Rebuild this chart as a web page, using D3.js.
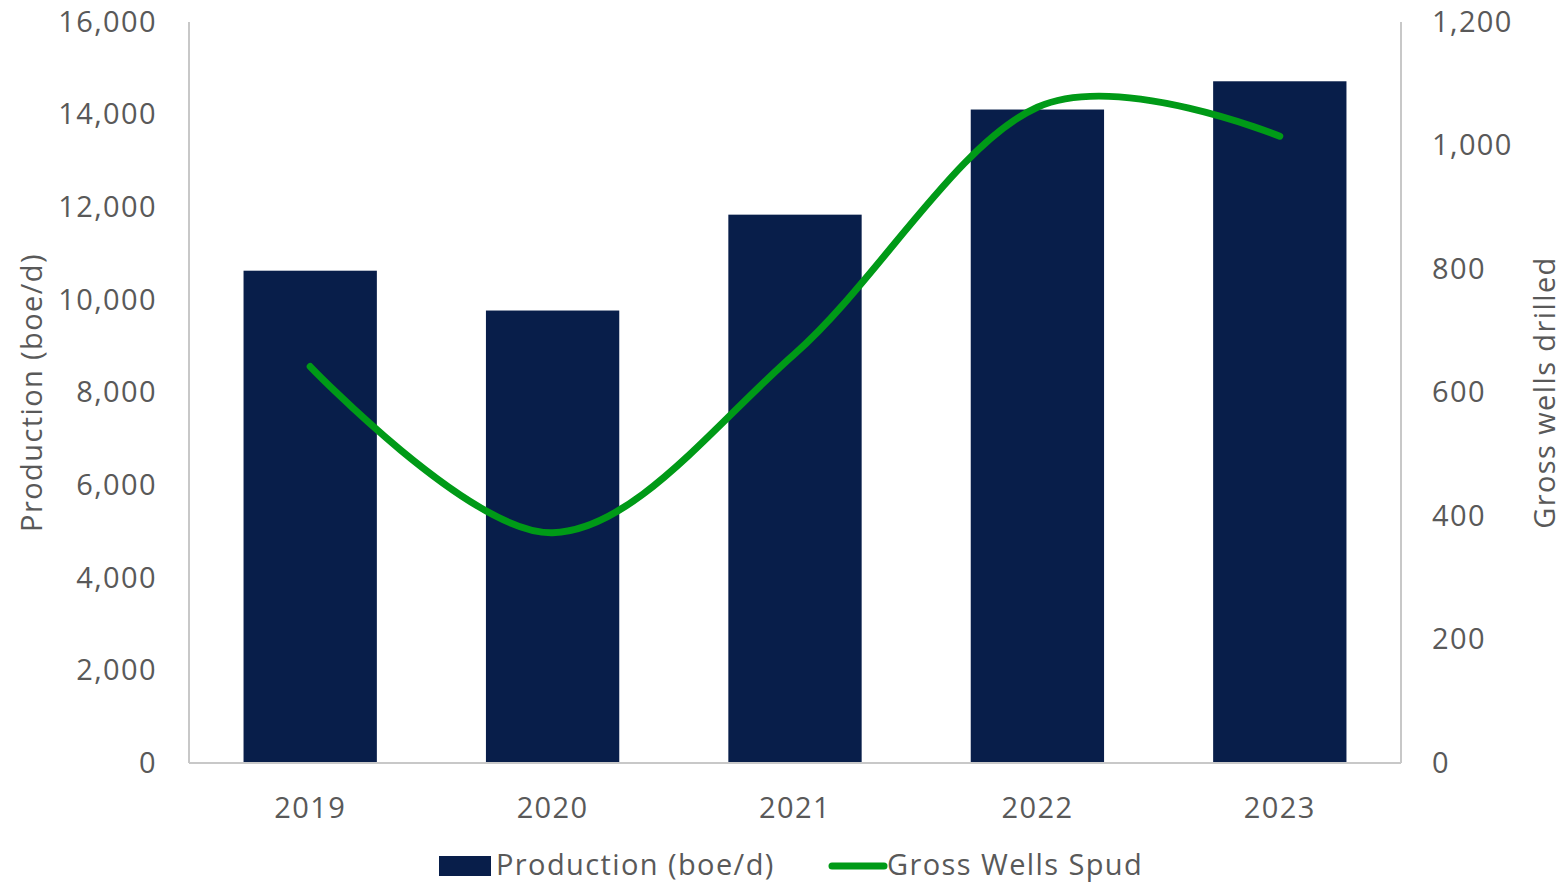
<!DOCTYPE html>
<html lang="en">
<head>
<meta charset="UTF-8">
<script src="https://d3js.org/d3.v7.min.js"></script>
<style>
  body { margin: 0; background: #fff; font-family: "Open Sans", Arial, sans-serif; }
  text { fill: #595959; letter-spacing: 1.4px; }
</style>
</head>
<body>
<svg id="chart" width="1562" height="882"></svg>
<script>
// data
const years = ["2019", "2020", "2021", "2022", "2023"];
const production = [10630, 9770, 11840, 14110, 14720];
const wells = [642, 373, 663, 1062, 1015];
const leftTicks = [0, 2000, 4000, 6000, 8000, 10000, 12000, 14000, 16000];
const rightTicks = [0, 200, 400, 600, 800, 1000, 1200];

const width = 1562, height = 882;
const margin = { top: 22, right: 161, bottom: 119, left: 189 };
const font = "Open Sans", fs = 29;

const svg = d3.select("#chart");
const fmt = d3.format(",");

const x = d3.scaleBand()
  .domain(years)
  .range([margin.left, width - margin.right])
  .paddingInner(0.45)
  .paddingOuter(0.225);

const xc = d3.scalePoint()
  .domain(years)
  .range([margin.left, width - margin.right])
  .padding(0.5);

const y = d3.scaleLinear().domain([0, 16000]).range([height - margin.bottom, margin.top]);
const y2 = d3.scaleLinear().domain([0, 1200]).range([height - margin.bottom, margin.top]);

// axes lines
const axisColor = "#c8c8c8";
svg.append("line")
  .attr("x1", margin.left).attr("x2", margin.left)
  .attr("y1", margin.top).attr("y2", y(0))
  .attr("stroke", axisColor).attr("stroke-width", 2);
svg.append("line")
  .attr("x1", width - margin.right).attr("x2", width - margin.right)
  .attr("y1", margin.top).attr("y2", y(0))
  .attr("stroke", axisColor).attr("stroke-width", 2);

// bars
svg.selectAll("rect.bar")
  .data(years)
  .enter().append("rect")
  .attr("class", "bar")
  .attr("x", d => x(d))
  .attr("width", x.bandwidth())
  .attr("y", (d, i) => y(production[i]))
  .attr("height", (d, i) => y(0) - y(production[i]))
  .attr("fill", "#081e4a");

svg.append("line")
  .attr("x1", margin.left).attr("x2", width - margin.right)
  .attr("y1", y(0)).attr("y2", y(0))
  .attr("stroke", axisColor).attr("stroke-width", 2);

// left axis
const gl = svg.append("g")
  .attr("transform", `translate(${margin.left},0)`)
  .call(d3.axisLeft(y).tickValues(leftTicks).tickFormat(fmt).tickSize(0).tickPadding(32));
gl.select(".domain").remove();
gl.selectAll("text").attr("font-size", fs).attr("font-family", font).style("fill", "#595959");

// right axis
const gr = svg.append("g")
  .attr("transform", `translate(${width - margin.right},0)`)
  .call(d3.axisRight(y2).tickValues(rightTicks).tickFormat(fmt).tickSize(0).tickPadding(31));
gr.select(".domain").remove();
gr.selectAll("text").attr("font-size", fs).attr("font-family", font).style("fill", "#595959");

// bottom axis labels
const gb = svg.append("g")
  .attr("transform", `translate(0,${y(0)})`)
  .call(d3.axisBottom(x).tickSize(0).tickPadding(34));
gb.select(".domain").remove();
gb.selectAll("text").attr("font-size", fs).attr("font-family", font).style("fill", "#595959");

// wells line
const line = d3.line()
  .x((d, i) => xc(years[i]))
  .y(d => y2(d))
  .curve(d3.curveCardinal.tension(0));
svg.append("path")
  .datum(wells)
  .attr("d", line)
  .attr("fill", "none")
  .attr("stroke", "#009a17")
  .attr("stroke-width", 7)
  .attr("stroke-linecap", "round");

// axis titles
svg.append("text")
  .attr("transform", `translate(42,${(margin.top + y(0)) / 2}) rotate(-90)`)
  .attr("text-anchor", "middle")
  .attr("font-size", fs)
  .text("Production (boe/d)");
svg.append("text")
  .attr("transform", `translate(1555,${(margin.top + y(0)) / 2}) rotate(-90)`)
  .attr("text-anchor", "middle")
  .attr("font-size", fs)
  .text("Gross wells drilled");

// legend
const lg = svg.append("g").attr("transform", "translate(0,866)");
lg.append("rect").attr("x", 439).attr("y", -10).attr("width", 52).attr("height", 20).attr("fill", "#081e4a");
lg.append("text").attr("x", 496).attr("y", 9).attr("font-size", fs).text("Production (boe/d)");
lg.append("line").attr("x1", 832).attr("x2", 884).attr("y1", 0).attr("y2", 0)
  .attr("stroke", "#009a17").attr("stroke-width", 7).attr("stroke-linecap", "round");
lg.append("text").attr("x", 887).attr("y", 9).attr("font-size", fs).text("Gross Wells Spud");
</script>
</body>
</html>
